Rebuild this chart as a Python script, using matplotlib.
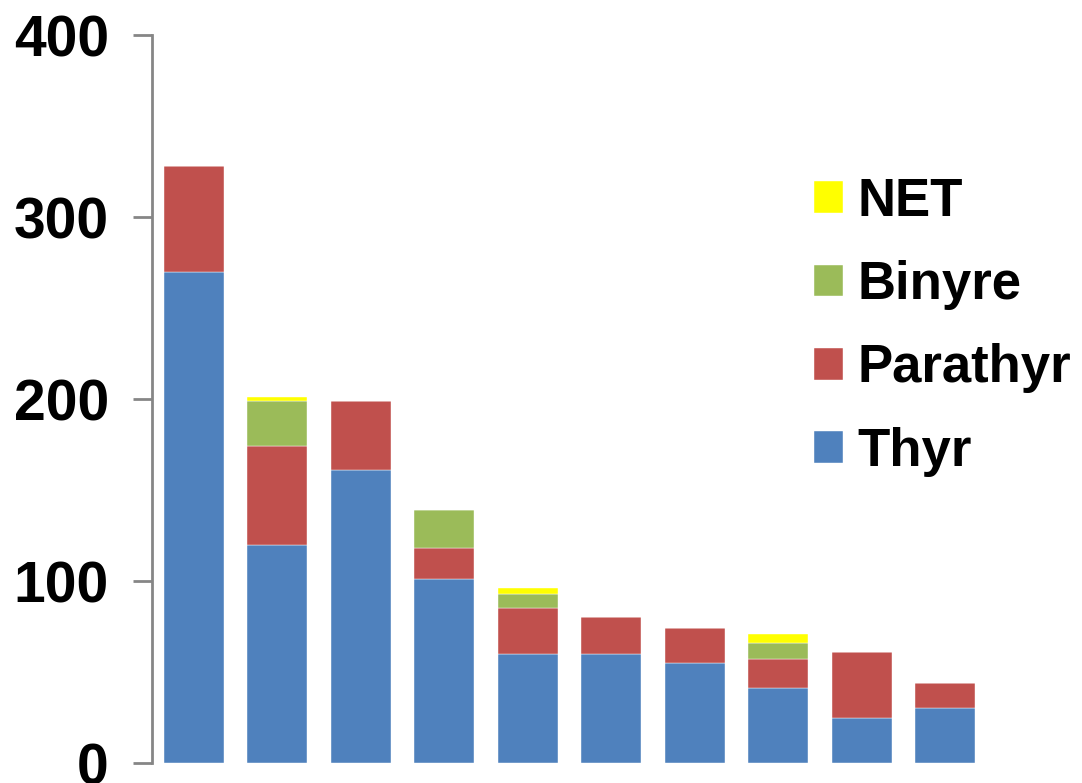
import matplotlib.pyplot as plt
import numpy as np

plt.rcParams['font.family'] = ['Liberation Sans', 'DejaVu Sans']

# Data
thyr = [270, 120, 161, 101, 60, 60, 55, 41, 25, 30]
parathyr = [58, 54, 38, 17, 25, 20, 19, 16, 36, 14]
binyre = [0, 25, 0, 21, 8, 0, 0, 9, 0, 0]
net = [0, 2, 0, 0, 3, 0, 0, 5, 0, 0]
series_names = ['Thyr', 'Parathyr', 'Binyre', 'NET']
colors = ['#4F81BD', '#C0504D', '#9BBB59', '#FFFF00']
yticks = [0, 100, 200, 300, 400]

fig = plt.figure(figsize=(10.82, 7.83), dpi=100)
ax = fig.add_axes([0.1405, 0.0255, 0.7715, 0.9298])

x = np.arange(len(thyr))
bottom = np.zeros(len(thyr))
handles = []
for vals, name, c in zip([thyr, parathyr, binyre, net], series_names, colors):
    h = ax.bar(x, vals, width=0.72, bottom=bottom, color=c, label=name,
               edgecolor='white', linewidth=0.3)
    handles.append(h)
    bottom += np.array(vals)

ax.set_xlim(-0.5, 9.5)
ax.set_ylim(0, 400)
ax.set_yticks(yticks)
ax.set_yticklabels([str(t) for t in yticks], fontsize=41, fontweight='bold')
ax.set_xticks([])
for s in ['top', 'right', 'bottom']:
    ax.spines[s].set_visible(False)
ax.spines['left'].set_color('#868686')
ax.spines['left'].set_linewidth(2)
ax.tick_params(axis='y', direction='out', length=14, width=2, color='#868686', pad=17)

leg = ax.legend(handles[::-1], series_names[::-1], loc='upper left',
                bbox_to_anchor=(0.793, 0.805), frameon=False,
                prop={'size': 38, 'weight': 'bold'},
                borderpad=0, borderaxespad=0,
                handlelength=0.55, handleheight=0.55, labelspacing=0.63,
                handletextpad=0.27)

plt.savefig('out.png', dpi=100)
plt.close()
